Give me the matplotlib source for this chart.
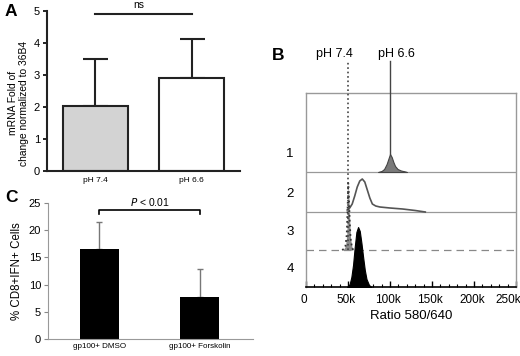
import matplotlib.pyplot as plt
from matplotlib.transforms import ScaledTranslation

plt.rcParams['font.family'] = ['Liberation Sans', 'DejaVu Sans']

# panel A data
a_labels = ['pH 7.4', 'pH 6.6']
a_means = [2.03, 2.9]
a_err = [1.47, 1.23]
a_colors = ['#d3d3d3', 'white']

# panel C data
c_labels = ['gp100+ DMSO', 'gp100+ Forskolin']
c_means = [16.6, 7.8]
c_err = [4.9, 5.0]

# panel B histograms (x in k, height), one per row
h1_x = [86, 90, 93, 96, 98, 100, 102, 104, 106, 109, 113, 118, 120]
h1_y = [0, 1, 3, 8, 13, 18, 15, 10, 6, 3, 1.5, 0.5, 0]
h2_x = [49, 52, 55, 58, 61, 64, 67, 70, 73, 76, 79, 83, 88, 100, 115, 130, 142]
h2_y = [2, 4, 8, 16, 25, 31, 33, 30, 22, 14, 8, 6, 5, 4, 3, 1.5, 0]
h3_x = [43, 45, 47, 48.5, 49.5, 50.3, 51, 52, 53, 54.5, 56]
h3_y = [0, 1, 4, 15, 40, 67, 55, 30, 12, 4, 0]
h4_x = [49, 52, 54, 56, 58, 60, 62, 64, 66, 68, 70, 72, 75, 78]
h4_y = [0, 3, 10, 22, 40, 55, 60, 56, 44, 30, 17, 8, 2, 0]
row_offsets = [115, 75, 37, 0]
row_names = ['1', '2', '3', '4']
b_ticks = ['0', '50k', '100k', '150k', '200k', '250k']

W, H = 520, 356
fig = plt.figure(figsize=(W / 100, H / 100), dpi=100)

def px_axes(l, t, r, b):
    return fig.add_axes([l / W, 1 - b / H, (r - l) / W, (b - t) / H])

# ---- panel A
axA = px_axes(47, 11, 240, 171)
axA.bar([0, 1], a_means, width=0.67, color=a_colors, edgecolor='#222222', linewidth=1.5, zorder=2)
axA.errorbar([0, 1], a_means, yerr=[[0, 0], a_err], fmt='none', ecolor='#222222',
             elinewidth=1.5, capsize=9, capthick=1.5, zorder=1)
axA.set_xlim(-0.5, 1.5)
axA.set_ylim(0, 5)
axA.set_yticks(range(6))
axA.set_xticks([0, 1])
axA.set_xticklabels(a_labels, fontsize=6)
axA.tick_params(axis='y', labelsize=8, length=3, width=1.2, pad=2)
axA.tick_params(axis='x', length=0, pad=4)
for s in ['top', 'right']:
    axA.spines[s].set_visible(False)
for s in ['left', 'bottom']:
    axA.spines[s].set_linewidth(1.5)
    axA.spines[s].set_color('#222222')
axA.set_ylabel('mRNA Fold of\nchange normalized to 36B4', fontsize=7.4, linespacing=1.15)
axA.yaxis.set_label_coords(-0.093, 0.425)
axA.plot([0, 1], [4.9, 4.9], color='#222222', lw=1.5, clip_on=False)
axA.text(0.45, 5.02, 'ns', ha='center', va='bottom', fontsize=7.5)
fig.text(5 / W, 1 - 12 / H, 'A', fontsize=12.5, fontweight='bold', va='center')

# ---- panel C
axC = px_axes(48, 203, 253, 339)
axC.bar([0, 1], c_means, width=0.39, color='black', zorder=2)
axC.errorbar([0, 1], c_means, yerr=[[0, 0], c_err], fmt='none', ecolor='#777777',
             elinewidth=1, capsize=2, capthick=1, zorder=1)
axC.set_xlim(-0.51, 1.53)
axC.set_ylim(0, 25)
axC.set_yticks(range(0, 26, 5))
axC.set_xticks([0, 1])
axC.set_xticklabels(c_labels, fontsize=5.8)
axC.tick_params(axis='y', labelsize=8, length=3, color='#888888', pad=2)
axC.tick_params(axis='x', length=0, pad=3)
for s in ['top', 'right']:
    axC.spines[s].set_visible(False)
for s in ['left', 'bottom']:
    axC.spines[s].set_color('#999999')
    axC.spines[s].set_linewidth(0.8)
axC.set_ylabel('% CD8+IFN+ Cells', fontsize=8.3, labelpad=4)
axC.plot([0, 0, 1, 1], [22.9, 23.7, 23.7, 22.9], color='black', lw=1.2, clip_on=False)
axC.text(0.5, 24.0, '$P$ < 0.01', ha='center', va='bottom', fontsize=7.5)
fig.text(5 / W, 1 - 197 / H, 'C', fontsize=12.5, fontweight='bold', va='center')

# ---- panel B
axB = px_axes(306, 93, 516, 287)
axB.set_xlim(0, 250)
axB.set_ylim(0, 194)
axB.fill_between(h4_x, row_offsets[3], [row_offsets[3] + v for v in h4_y], color='black', lw=0.8, zorder=3)
axB.axhline(row_offsets[2], color='#888888', lw=0.9, ls=(0, (6, 4)), zorder=1)
axB.fill_between(h3_x, row_offsets[2], [row_offsets[2] + v for v in h3_y], color='#8a8a8a', lw=0, zorder=2)
axB.plot(h3_x, [row_offsets[2] + v for v in h3_y], color='#333333', lw=1.3, ls=':', zorder=4)
axB.axhline(row_offsets[1], color='#999999', lw=0.9, zorder=1)
axB.plot(h2_x, [row_offsets[1] + v for v in h2_y], color='#555555', lw=1.2, zorder=2)
axB.axhline(row_offsets[0], color='#999999', lw=0.9, zorder=1)
axB.fill_between(h1_x, row_offsets[0], [row_offsets[0] + v for v in h1_y], color='#7a7a7a',
                 edgecolor='#444444', lw=0.8, zorder=2)
for off, name in zip(row_offsets, row_names):
    axB.text(-19, off + 18, name, ha='center', va='center', fontsize=9.5)
# marker lines above the peaks
axB.plot([50.3, 50.3], [row_offsets[2], 226], color='#444444', lw=1.2, ls=':', clip_on=False, zorder=5)
axB.plot([100, 100], [row_offsets[0] + 18, 226], color='#444444', lw=1, clip_on=False, zorder=5)
axB.text(34, 227, 'pH 7.4', ha='center', va='bottom', fontsize=9)
axB.text(108, 227, 'pH 6.6', ha='center', va='bottom', fontsize=9)
axB.set_xticks(range(0, 251, 50))
axB.set_xticklabels(b_ticks, fontsize=8.5)
axB.set_xticks(range(0, 251, 10), minor=True)
axB.set_yticks([])
axB.tick_params(axis='x', which='major', direction='in', length=4, width=1, pad=5)
axB.tick_params(axis='x', which='minor', direction='in', length=2.5, width=0.8)
labs = axB.get_xticklabels()
for i, lab in enumerate(labs):
    dx = -8 if i == len(labs) - 1 else -2
    lab.set_transform(lab.get_transform() + ScaledTranslation(dx / 100, 0, fig.dpi_scale_trans))
for s in ['top', 'right', 'left']:
    axB.spines[s].set_color('#999999')
    axB.spines[s].set_linewidth(1)
axB.spines['bottom'].set_color('black')
axB.spines['bottom'].set_linewidth(1.2)
axB.set_xlabel('Ratio 580/640', fontsize=9.5, labelpad=3)
fig.text(272 / W, 1 - 55 / H, 'B', fontsize=12.5, fontweight='bold', va='center')

fig.savefig('out.png', dpi=100)
